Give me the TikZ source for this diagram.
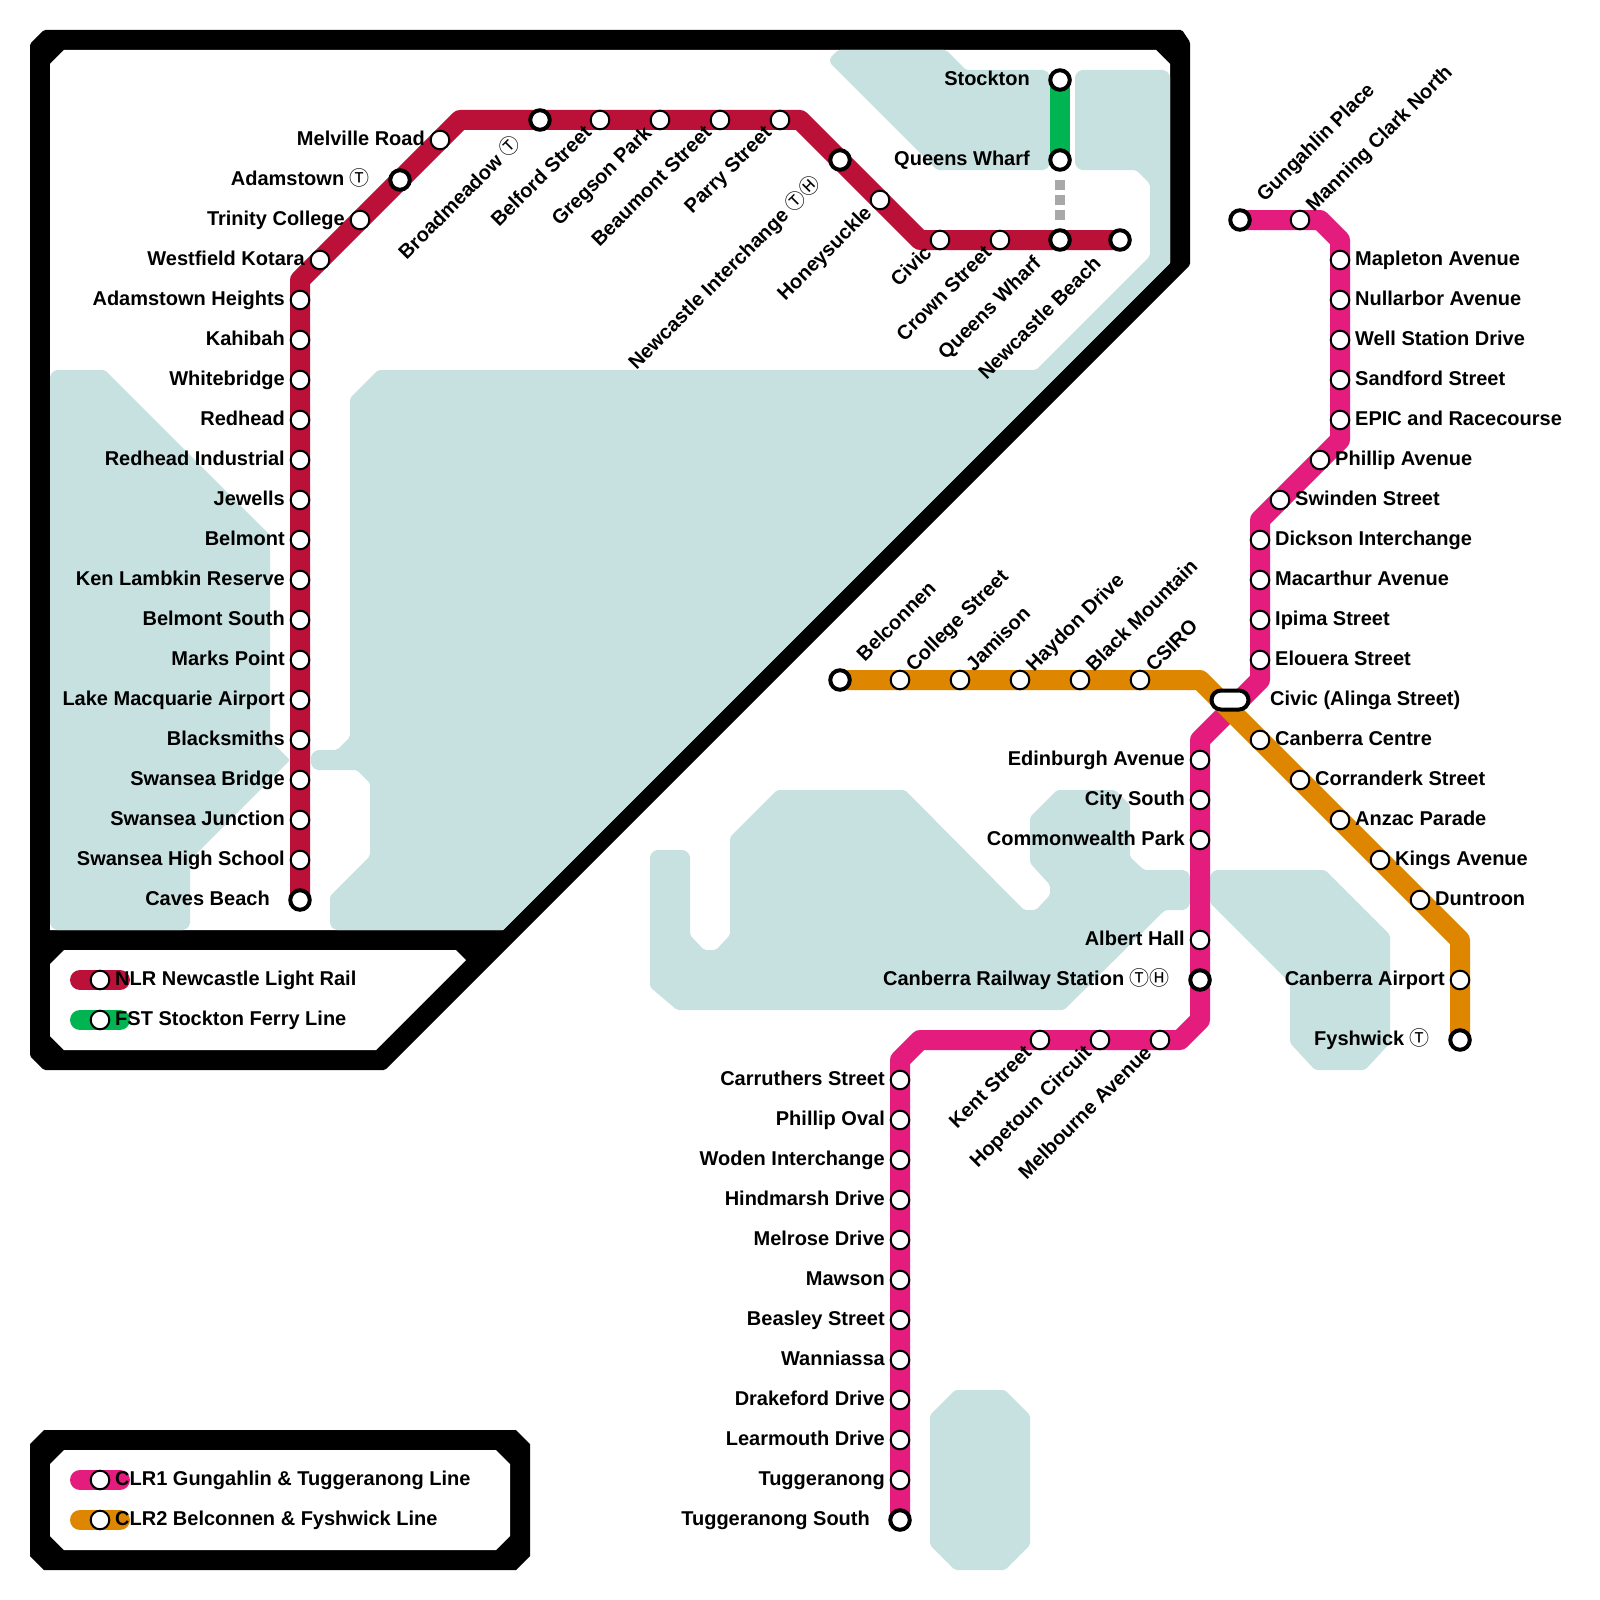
\documentclass[tikz,border=0pt]{standalone}
\usepackage{fontspec}
\setmainfont{Liberation Sans}
\newfontfamily\symf{Noto Sans CJK JP}
\newcommand{\Tm}{{\symf\mdseries\fontsize{20}{24}\selectfont Ⓣ}}
\newcommand{\Hm}{{\symf\mdseries\fontsize{20}{24}\selectfont Ⓗ}}
\definecolor{nlr}{HTML}{BB1138}
\definecolor{fst}{HTML}{00B451}
\definecolor{clra}{HTML}{E31C7D}
\definecolor{clrb}{HTML}{DF8600}
\definecolor{water}{HTML}{C7E1E0}
\definecolor{gry}{HTML}{A8A8A8}
\pgfdeclarelayer{waterlayer}
\pgfdeclarelayer{linelayer}
\pgfsetlayers{waterlayer,linelayer,main}
\tikzset{
  rail/.style={line width=20pt,line join=round},
  sea/.style={fill=water,rounded corners=2pt},
  sta/.style={circle,draw=black,fill=white,line width=2pt,minimum size=18.6pt,inner sep=0pt},
  ista/.style={circle,draw=black,fill=white,line width=4pt,minimum size=19.5pt,inner sep=0pt},
  lab/.style={font=\bfseries\fontsize{20}{24}\selectfont,inner sep=0pt,text=black},
  lL/.style={lab,anchor=base east,xshift=-15pt,yshift=-5.4pt},
  lR/.style={lab,anchor=base west,xshift=15pt,yshift=-5.4pt},
  lD/.style={lab,anchor=base east,xshift=-7.2pt,yshift=-14pt,rotate=45},
  lU/.style={lab,anchor=base west,xshift=14pt,yshift=7.2pt,rotate=45},
  iL/.style={lab,anchor=base east,xshift=-30pt,yshift=-5.4pt},
  iR/.style={lab,anchor=base west,xshift=30pt,yshift=-5.4pt},
  iD/.style={lab,anchor=base east,xshift=-17.8pt,yshift=-24.6pt,rotate=45},
  iU/.style={lab,anchor=base west,xshift=24.6pt,yshift=17.8pt,rotate=45},
}
% \St{station style}{name}{x}{y}{label style}{text}
\newcommand{\St}[6]{\node[#1] (#2) at (#3,#4) {}; \node[#5] (#2-l) at (#2.center) {#6};}
\begin{document}
\begin{tikzpicture}[x=1pt,y=-1pt]
\useasboundingbox (0,0) rectangle (1600,1600);
\begin{pgfonlayer}{waterlayer}
\fill[white] (0,0) rectangle (1600,1600);
% frames
\fill[black,rounded corners=1.5pt] (44,30) -- (1182,30) -- (1190,42) -- (1190,265) -- (385,1070) -- (44,1070) -- (30,1056) -- (30,44) -- cycle;
\fill[white] (64,50) -- (1156,50) -- (1170,64) -- (1170,263) -- (503,930) -- (50,930) -- (50,64) -- cycle;
\fill[white] (64,950) -- (456,950) -- (466,960) -- (376,1050) -- (64,1050) -- (50,1036) -- (50,964) -- cycle;
\fill[black] (44,1430) -- (516,1430) -- (530,1444) -- (530,1556) -- (516,1570) -- (44,1570) -- (30,1556) -- (30,1444) -- cycle;
\fill[white] (64,1450) -- (496,1450) -- (510,1464) -- (510,1536) -- (496,1550) -- (64,1550) -- (50,1536) -- (50,1464) -- cycle;
% water
\fill[sea] (55,370) -- (105,370) -- (270,535) -- (270,740) -- (290,760) -- (190,860) -- (190,925) -- (185,930) -- (55,930) -- (50,925) -- (50,375) -- cycle;
\fill[sea] (378,370) -- (1036,370) -- (1150,256) -- (1150,184) -- (1136,170) -- (1080,170) -- (1075,165) -- (1075,75) -- (1080,70) -- (1165,70) -- (1170,75) -- (1170,263) -- (503,930) -- (335,930) -- (330,925) -- (330,896) -- (370,856) -- (370,783) -- (357,770) -- (316,770) -- (311,765) -- (311,755) -- (316,750) -- (337,750) -- (350,737) -- (350,398) -- cycle;
\fill[sea] (838,50) -- (946,50) -- (966,70) -- (1045,70) -- (1050,75) -- (1050,165) -- (1045,170) -- (937,170) -- (830,63) -- (830,58) -- cycle;
\fill[sea] (655,850) -- (685,850) -- (690,855) -- (690,935) -- (704,950) -- (716,950) -- (730,935) -- (730,837) -- (777,790) -- (905,790) -- (1024,910) -- (1036,910) -- (1050,895) -- (1050,885) -- (1030,863) -- (1030,817) -- (1057,790) -- (1115,790) -- (1130,805) -- (1130,857) -- (1144,870) -- (1185,870) -- (1190,875) -- (1190,905) -- (1185,910) -- (1165,910) -- (1064,1010) -- (677,1010) -- (650,987) -- (650,855) -- cycle;
\fill[sea] (1215,870) -- (1325,870) -- (1390,935) -- (1390,1043) -- (1365,1070) -- (1315,1070) -- (1290,1043) -- (1290,983) -- (1210,903) -- (1210,875) -- cycle;
\fill[sea] (955,1390) -- (1005,1390) -- (1030,1415) -- (1030,1545) -- (1005,1570) -- (955,1570) -- (930,1545) -- (930,1415) -- cycle;
\end{pgfonlayer}
% NLR
\St{ista}{caves}{300}{900}{iL}{Caves Beach}
\St{sta}{swhs}{300}{860}{lL}{Swansea High School}
\St{sta}{swj}{300}{820}{lL}{Swansea Junction}
\St{sta}{swb}{300}{780}{lL}{Swansea Bridge}
\St{sta}{black}{300}{740}{lL}{Blacksmiths}
\St{sta}{lake}{300}{700}{lL}{Lake Macquarie Airport}
\St{sta}{marks}{300}{660}{lL}{Marks Point}
\St{sta}{bels}{300}{620}{lL}{Belmont South}
\St{sta}{ken}{300}{580}{lL}{Ken Lambkin Reserve}
\St{sta}{belm}{300}{540}{lL}{Belmont}
\St{sta}{jew}{300}{500}{lL}{Jewells}
\St{sta}{redi}{300}{460}{lL}{Redhead Industrial}
\St{sta}{red}{300}{420}{lL}{Redhead}
\St{sta}{whit}{300}{380}{lL}{Whitebridge}
\St{sta}{kah}{300}{340}{lL}{Kahibah}
\St{sta}{adah}{300}{300}{lL}{Adamstown Heights}
\St{sta}{west}{320}{260}{lL}{Westfield Kotara}
\St{sta}{trin}{360}{220}{lL}{Trinity College}
\St{ista}{adam}{400}{180}{iL}{Adamstown \Tm}
\St{sta}{melv}{440}{140}{lL}{Melville Road}
\St{ista}{broad}{540}{120}{iD}{Broadmeadow \Tm}
\St{sta}{belf}{600}{120}{lD}{Belford Street}
\St{sta}{greg}{660}{120}{lD}{Gregson Park}
\St{sta}{beau}{720}{120}{lD}{Beaumont Street}
\St{sta}{parry}{780}{120}{lD}{Parry Street}
\St{ista}{newi}{840}{160}{iD}{Newcastle Interchange \Tm\Hm}
\St{sta}{honey}{880}{200}{lD}{Honeysuckle}
\St{sta}{civ}{940}{240}{lD}{Civic}
\St{sta}{crown}{1000}{240}{lD}{Crown Street}
\St{ista}{qwb}{1060}{240}{iD}{Queens Wharf}
\St{ista}{newb}{1120}{240}{iD}{Newcastle Beach}
% FST
\St{ista}{stock}{1060}{80}{iL}{Stockton}
\St{ista}{qwa}{1060}{160}{iL}{Queens Wharf}
% CLR1
\St{ista}{gung}{1240}{220}{iU}{Gungahlin Place}
\St{sta}{mann}{1300}{220}{lU}{Manning Clark North}
\St{sta}{maple}{1340}{260}{lR}{Mapleton Avenue}
\St{sta}{null}{1340}{300}{lR}{Nullarbor Avenue}
\St{sta}{well}{1340}{340}{lR}{Well Station Drive}
\St{sta}{sand}{1340}{380}{lR}{Sandford Street}
\St{sta}{epic}{1340}{420}{lR}{EPIC and Racecourse}
\St{sta}{phila}{1320}{460}{lR}{Phillip Avenue}
\St{sta}{swin}{1280}{500}{lR}{Swinden Street}
\St{sta}{dick}{1260}{540}{lR}{Dickson Interchange}
\St{sta}{mac}{1260}{580}{lR}{Macarthur Avenue}
\St{sta}{ipi}{1260}{620}{lR}{Ipima Street}
\St{sta}{elo}{1260}{660}{lR}{Elouera Street}
\node[rectangle,draw=black,fill=white,line width=4pt,minimum width=37pt,minimum height=19pt,inner sep=0pt,rounded corners=9.5pt] (alinga) at (1230,700) {};
\node[lR,xshift=25pt] (alinga-l) at (alinga.center) {Civic (Alinga Street)};
\St{sta}{edin}{1200}{760}{lL}{Edinburgh Avenue}
\St{sta}{city}{1200}{800}{lL}{City South}
\St{sta}{comm}{1200}{840}{lL}{Commonwealth Park}
\St{sta}{albert}{1200}{940}{lL}{Albert Hall}
\St{ista}{crs}{1200}{980}{iL}{Canberra Railway Station \Tm\Hm}
\St{sta}{melb}{1160}{1040}{lD}{Melbourne Avenue}
\St{sta}{hope}{1100}{1040}{lD}{Hopetoun Circuit}
\St{sta}{kent}{1040}{1040}{lD}{Kent Street}
\St{sta}{carr}{900}{1080}{lL}{Carruthers Street}
\St{sta}{phio}{900}{1120}{lL}{Phillip Oval}
\St{sta}{wod}{900}{1160}{lL}{Woden Interchange}
\St{sta}{hind}{900}{1200}{lL}{Hindmarsh Drive}
\St{sta}{melr}{900}{1240}{lL}{Melrose Drive}
\St{sta}{maw}{900}{1280}{lL}{Mawson}
\St{sta}{beas}{900}{1320}{lL}{Beasley Street}
\St{sta}{wann}{900}{1360}{lL}{Wanniassa}
\St{sta}{drak}{900}{1400}{lL}{Drakeford Drive}
\St{sta}{lear}{900}{1440}{lL}{Learmouth Drive}
\St{sta}{tug}{900}{1480}{lL}{Tuggeranong}
\St{ista}{tugs}{900}{1520}{iL}{Tuggeranong South}
% CLR2
\St{ista}{belc}{840}{680}{iU}{Belconnen}
\St{sta}{coll}{900}{680}{lU}{College Street}
\St{sta}{jam}{960}{680}{lU}{Jamison}
\St{sta}{hay}{1020}{680}{lU}{Haydon Drive}
\St{sta}{bmt}{1080}{680}{lU}{Black Mountain}
\St{sta}{csiro}{1140}{680}{lU}{CSIRO}
\St{sta}{canc}{1260}{740}{lR}{Canberra Centre}
\St{sta}{corr}{1300}{780}{lR}{Corranderk Street}
\St{sta}{anz}{1340}{820}{lR}{Anzac Parade}
\St{sta}{kings}{1380}{860}{lR}{Kings Avenue}
\St{sta}{dunt}{1420}{900}{lR}{Duntroon}
\St{sta}{cana}{1460}{980}{lL}{Canberra Airport}
\St{ista}{fysh}{1460}{1040}{iL}{Fyshwick \Tm}
% legends
\St{sta}{kn}{100}{980}{lR}{NLR Newcastle Light Rail}
\St{sta}{kf}{100}{1020}{lR}{FST Stockton Ferry Line}
\St{sta}{kc}{100}{1480}{lR}{CLR1 Gungahlin \& Tuggeranong Line}
\St{sta}{kb}{100}{1520}{lR}{CLR2 Belconnen \& Fyshwick Line}
\begin{pgfonlayer}{linelayer}
\coordinate (dotA) at (1060,180);
\coordinate (dotB) at (1060,220);
\draw[gry,line width=10pt,dash pattern=on 10pt off 5pt] (dotA) -- (dotB);
\draw[rail,nlr] (caves.center) -- (300,280) -- (460,120) -- (800,120) -- (920,240) -- (newb.center);
\draw[rail,fst] (stock.center) -- (qwa.center);
\draw[rail,clra] (gung.center) -- (1320,220) -- (1340,240) -- (1340,440) -- (1260,520) -- (1260,680) -- (1200,740) -- (1200,1020) -- (1180,1040) -- (920,1040) -- (900,1060) -- (tugs.center);
\draw[rail,clrb] (belc.center) -- (1200,680) -- (1460,940) -- (fysh.center);
\draw[rail,nlr,line cap=round] ([xshift=-20pt]kn.center) -- ([xshift=20pt]kn.center);
\draw[rail,fst,line cap=round] ([xshift=-20pt]kf.center) -- ([xshift=20pt]kf.center);
\draw[rail,clra,line cap=round] ([xshift=-20pt]kc.center) -- ([xshift=20pt]kc.center);
\draw[rail,clrb,line cap=round] ([xshift=-20pt]kb.center) -- ([xshift=20pt]kb.center);
\end{pgfonlayer}
\end{tikzpicture}
\end{document}
